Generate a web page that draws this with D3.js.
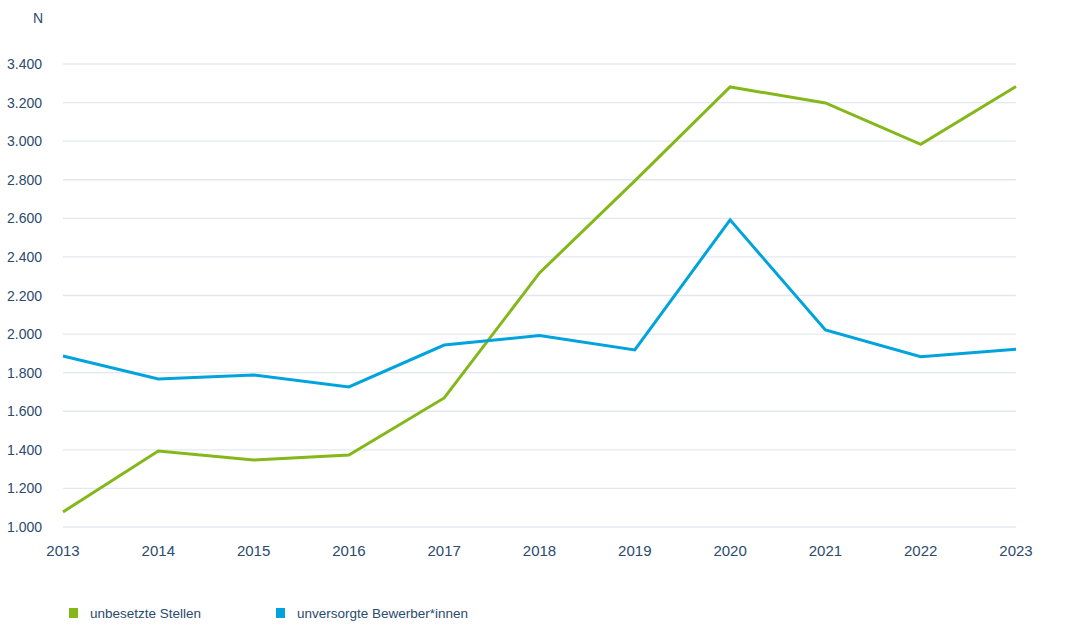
<!DOCTYPE html>
<html><head><meta charset="utf-8">
<script src="https://cdn.jsdelivr.net/npm/d3@7"></script>
<style>body{margin:0;background:#fff;} svg{display:block;} text{font-family:"Liberation Sans",Arial,sans-serif;}</style>
</head><body>
<svg id="c" width="1080" height="632"></svg>
<script>
const years = [2013,2014,2015,2016,2017,2018,2019,2020,2021,2022,2023];
const unbesetzteStellen = [1078,1394,1347,1373,1669,2317,2794,3281,3198,2984,3283];
const unversorgteBewerber = [1886,1767,1788,1726,1943,1992,1918,2592,2021,1883,1921];
const yTicks = [1000,1200,1400,1600,1800,2000,2200,2400,2600,2800,3000,3200,3400];
const seriesNames = ["unbesetzte Stellen","unversorgte Bewerber*innen"];
const colors = ["#84b81a","#00a3dc"];

const svg = d3.select("#c");
const textColor = "#2b4a6d";
const x = d3.scalePoint().domain(years).range([63,1016]);
const y = d3.scaleLinear().domain([1000,3400]).range([527,64]);
const fmt = v => d3.format(",")(v).replace(",", ".");

// grid
svg.append("g").selectAll("line").data(yTicks).join("line")
  .attr("x1",63).attr("x2",1016).attr("y1",d=>y(d)).attr("y2",d=>y(d))
  .attr("stroke","#e4e8ee").attr("stroke-width",1.3);

// y labels
svg.append("g").selectAll("text").data(yTicks).join("text")
  .attr("x",42).attr("y",d=>y(d)+5).attr("text-anchor","end")
  .attr("font-size",14).attr("fill",textColor).text(d=>fmt(d));

svg.append("text").attr("x",38).attr("y",23).attr("text-anchor","middle")
  .attr("font-size",14).attr("fill",textColor).text("N");

// x labels
svg.append("g").selectAll("text").data(years).join("text")
  .attr("x",d=>x(d)).attr("y",556).attr("text-anchor","middle")
  .attr("font-size",15).attr("fill",textColor).text(d=>d);

const line = d3.line().x((d,i)=>x(years[i])).y(d=>y(d));
[unbesetzteStellen, unversorgteBewerber].forEach((s,i)=>{
  svg.append("path").datum(s).attr("d",line).attr("fill","none")
    .attr("stroke",colors[i]).attr("stroke-width",3).attr("stroke-linejoin","miter");
});

// legend
const lx = [69,276];
seriesNames.forEach((n,i)=>{
  svg.append("rect").attr("x",lx[i]).attr("y",608).attr("width",9).attr("height",10).attr("fill",colors[i]);
  svg.append("text").attr("x",lx[i]+21).attr("y",618).attr("font-size",13.5).attr("fill",textColor).text(n);
});
</script>
</body></html>
